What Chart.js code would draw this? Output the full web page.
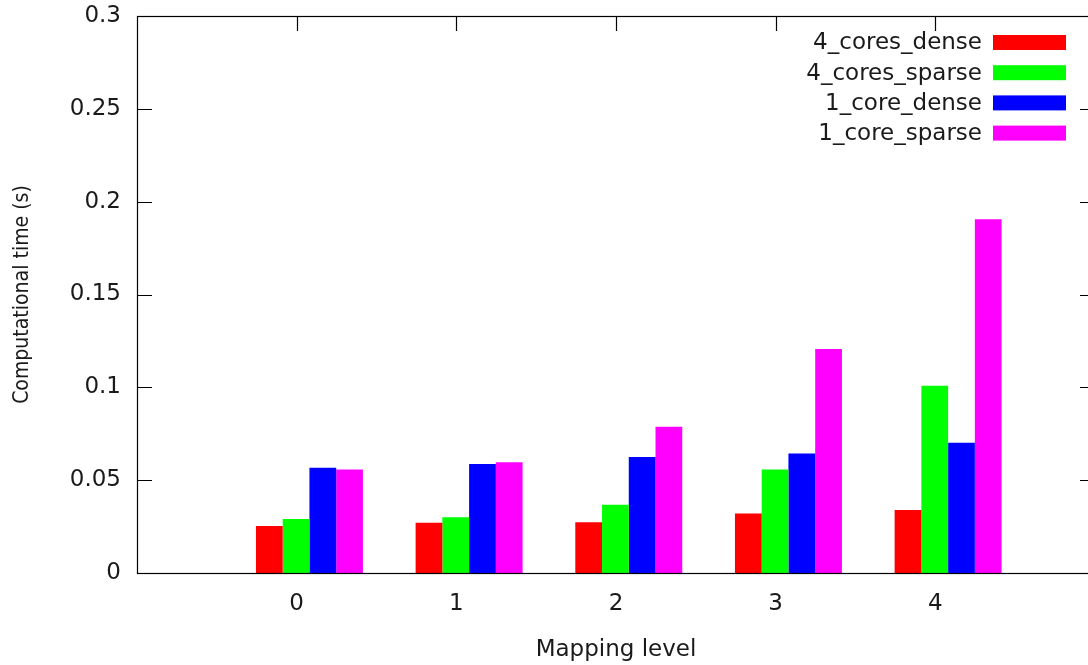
<!DOCTYPE html>
<html>
<head>
<meta charset="utf-8">
<script src="https://cdn.jsdelivr.net/npm/chart.js@4.4.1/dist/chart.umd.min.js"></script>
<style>
  html, body { margin: 0; padding: 0; background: #fff; overflow: hidden; }
  #wrap { width: 1100px; height: 665px; }
</style>
</head>
<body>
<div id="wrap"><canvas id="myChart" width="1100" height="665"></canvas></div>
<script>
// mapping levels on the x axis
const levels = [0, 1, 2, 3, 4];
const seriesNames = ['4_cores_dense', '4_cores_sparse', '1_core_dense', '1_core_sparse'];
const seriesColors = ['#ff0000', '#00ff00', '#0000ff', '#ff00ff'];

// computational time (s) per level
const cores4Dense  = [0.0253, 0.0271, 0.0273, 0.0321, 0.0339];
const cores4Sparse = [0.0291, 0.0300, 0.0368, 0.0558, 0.1009];
const core1Dense   = [0.0567, 0.0587, 0.0625, 0.0643, 0.0702];
const core1Sparse  = [0.0558, 0.0596, 0.0788, 0.1206, 0.1905];

const yTicks = [0, 0.05, 0.1, 0.15, 0.2, 0.25, 0.3];
const yTitle = 'Computational time (s)';

const allSeries = [cores4Dense, cores4Sparse, core1Dense, core1Sparse];
const labelShift = 0.08; // tic sits a bit left of the cluster centre
const font = 'DejaVu Sans';
const textColor = '#1a1a1a';

const frame = {
  id: 'frame',
  afterDatasetsDraw(chart) {
    const {ctx, chartArea: a, scales} = chart;
    ctx.save();
    ctx.strokeStyle = '#000';
    ctx.lineWidth = 1.2;
    ctx.beginPath();
    // y tics, inward on both sides
    scales.y.ticks.forEach(t => {
      if (t.value === 0 || t.value === 0.3) return;
      const y = Math.round(scales.y.getPixelForValue(t.value)) + 0.5;
      ctx.moveTo(a.left, y); ctx.lineTo(a.left + 15, y);
      ctx.moveTo(a.right, y); ctx.lineTo(a.right - 15, y);
    });
    // x tics along the top
    scales.x.ticks.forEach(t => {
      const x = Math.round(scales.x.getPixelForValue(t.value)) + 0.5;
      ctx.moveTo(x, a.top); ctx.lineTo(x, a.top + 15);
    });
    ctx.stroke();
    ctx.strokeRect(Math.round(a.left) + 0.5, Math.round(a.top) + 0.5,
      Math.round(a.right - a.left), Math.round(a.bottom - a.top));
    ctx.restore();
  },
  afterDraw(chart) {
    const {ctx, chartArea: a} = chart;
    ctx.save();
    ctx.fillStyle = textColor;
    // rotated y title, squeezed along its length
    ctx.font = '22px "' + font + '"';
    ctx.textAlign = 'center';
    ctx.textBaseline = 'middle';
    ctx.save();
    ctx.translate(22, (a.top + a.bottom) / 2);
    ctx.rotate(-Math.PI / 2);
    ctx.scale(0.86, 1);
    ctx.fillText(yTitle, 0, 0);
    ctx.restore();

    // key in the top right corner, text left of the swatch
    ctx.font = '23px "' + font + '"';
    ctx.textAlign = 'right';
    chart.data.datasets.forEach((ds, i) => {
      const cy = 42.5 + i * 30.2;
      ctx.fillStyle = textColor;
      ctx.fillText(ds.label, 982, cy + 1);
      ctx.fillStyle = ds.backgroundColor;
      ctx.fillRect(993, cy - 7.5, 73, 15);
    });
    ctx.restore();
  }
};

new Chart(document.getElementById('myChart').getContext('2d'), {
  type: 'bar',
  data: {
    datasets: allSeries.map((vals, i) => ({
      label: seriesNames[i],
      data: levels.map((l, j) => ({x: l, y: vals[j]})),
      backgroundColor: seriesColors[i],
      borderWidth: 0,
      categoryPercentage: 0.67,
      barPercentage: 1.0
    }))
  },
  options: {
    responsive: false,
    animation: false,
    layout: { padding: { top: 16, right: 5, left: 0, bottom: 0 } },
    plugins: { legend: { display: false }, tooltip: { enabled: false } },
    scales: {
      x: {
        type: 'linear',
        offset: false,
        min: -1 - labelShift,
        max: 5 - labelShift,
        afterBuildTicks: s => { s.ticks = levels.map(l => ({ value: l - labelShift })); },
        afterFit: s => { s.height = 92; s.paddingLeft = 0; s.paddingRight = 0; },
        grid: { display: false, offset: false, tickLength: 0, drawTicks: false },
        border: { display: false },
        ticks: {
          padding: 17,
          color: textColor,
          font: { family: font, size: 23 },
          maxRotation: 0,
          callback: v => String(Math.round(v))
        },
        title: {
          display: true,
          text: 'Mapping level',
          color: textColor,
          font: { family: font, size: 23 },
          padding: { top: 4, bottom: 1 }
        }
      },
      y: {
        min: 0,
        max: 0.3,
        afterBuildTicks: s => { s.ticks = yTicks.map(v => ({ value: v })); },
        afterFit: s => { s.width = 137; s.paddingTop = 0; s.paddingBottom = 0; },
        grid: { display: false, tickLength: 0, drawTicks: false },
        border: { display: false },
        ticks: {
          padding: 16,
          color: textColor,
          font: { family: font, size: 23 },
          callback: v => String(Number(v.toFixed(2)))
        }
      }
    }
  },
  plugins: [frame]
});
</script>
</body>
</html>
